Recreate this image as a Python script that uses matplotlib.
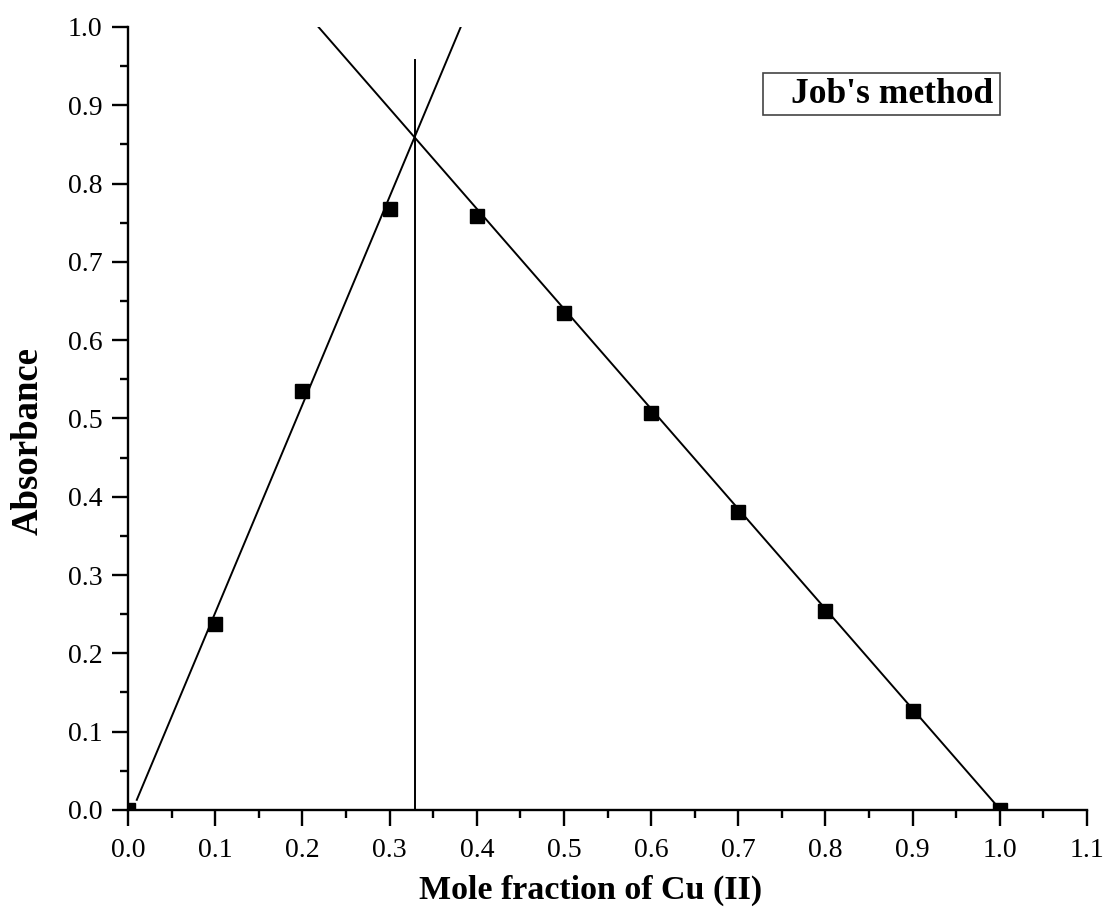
import numpy as np
import matplotlib.pyplot as plt
from matplotlib.patches import Rectangle
from matplotlib.ticker import MultipleLocator

plt.rcParams['font.family'] = ['Liberation Serif', 'DejaVu Serif']

# モル分率と吸光度
mole_fraction = [0.0, 0.1, 0.2, 0.3, 0.4, 0.5, 0.6, 0.7, 0.8, 0.9, 1.0]
absorbance = [0.0, 0.237, 0.535, 0.767, 0.758, 0.634, 0.507, 0.381, 0.254, 0.126, 0.0]
# 図から読んだ直線 (傾き, 切片) と描画範囲
left_fit = [2.656, -0.0137]
left_range = [0.01, 0.384]
right_fit = [-1.278, 1.279]
right_range = [0.218, 0.997]
x_cross = 0.329
cross_top = 0.958

fig = plt.figure(figsize=(11.04, 9.09), dpi=100)
ax = fig.add_axes([0.116, 0.109, 0.8686, 0.8614])

xl = np.array(left_range)
xr = np.array(right_range)
ax.plot(xl, np.polyval(left_fit, xl), color='black', lw=1.4)
ax.plot(xr, np.polyval(right_fit, xr), color='black', lw=1.4)
ax.plot([x_cross, x_cross], [0, cross_top], color='black', lw=1.4)
ax.plot(mole_fraction, absorbance, 's', color='black', ms=10)

ax.set_xlim(0, 1.1)
ax.set_ylim(0, 1.0)
ax.xaxis.set_major_locator(MultipleLocator(0.1))
ax.xaxis.set_minor_locator(MultipleLocator(0.05))
ax.yaxis.set_major_locator(MultipleLocator(0.1))
ax.yaxis.set_minor_locator(MultipleLocator(0.05))
ax.xaxis.set_major_formatter(plt.FuncFormatter(lambda v, p: f'{v:.1f}'))
ax.yaxis.set_major_formatter(plt.FuncFormatter(lambda v, p: f'{v:.1f}'))

for s in ['top', 'right']:
    ax.spines[s].set_visible(False)
for s in ['left', 'bottom']:
    ax.spines[s].set_linewidth(1.7)
ax.tick_params(which='major', direction='out', length=11.5, width=1.7, labelsize=20)
ax.tick_params(axis='x', which='major', pad=9)
ax.tick_params(axis='y', which='major', pad=7)
ax.tick_params(which='minor', direction='out', length=6, width=1.7)

ax.set_xlabel('Mole fraction of Cu (II)', fontsize=24.5, fontweight='bold')
ax.set_ylabel('Absorbance', fontsize=26.5, fontweight='bold')
ax.xaxis.set_label_coords(0.482, -0.083)
ax.yaxis.set_label_coords(-0.086, 0.471)

ax.add_patch(Rectangle((0.662, 0.888), 0.247, 0.053, transform=ax.transAxes,
                       fill=False, edgecolor='#444444', lw=1.2, clip_on=False))
ax.text(0.7965, 0.914, "Job's method", transform=ax.transAxes, ha='center', va='center',
        fontsize=25.5, fontweight='bold')

fig.savefig('out.png', dpi=100)
